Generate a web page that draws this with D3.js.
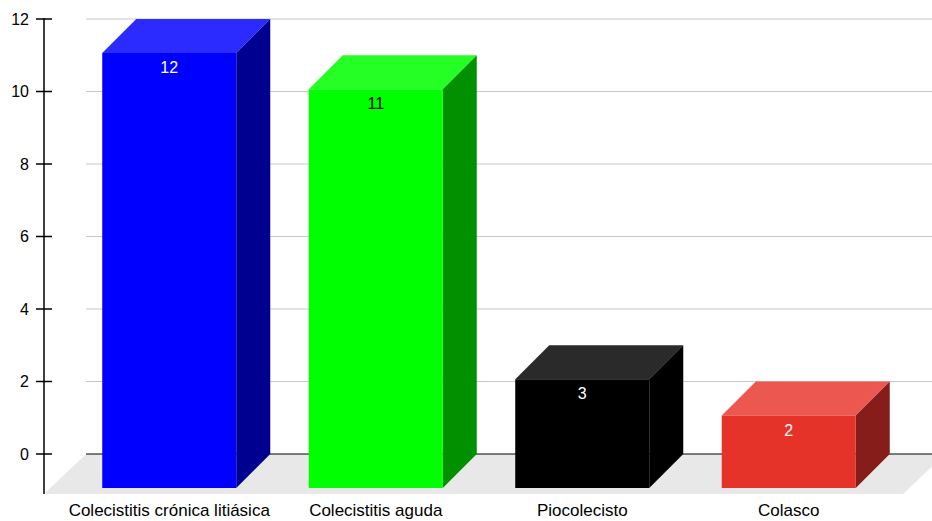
<!DOCTYPE html>
<html lang="es">
    <head>
        <meta charset="UTF-8" />
        <title>Colecistitis</title>
        <style>
            body {
                margin: 0;
                background: #fff;
            }
            svg {
                display: block;
            }
            .tick-label {
                font: 16px Arial, "Liberation Sans", sans-serif;
                fill: #000;
            }
            .cat-label {
                font: 17px Arial, "Liberation Sans", sans-serif;
                fill: #000;
            }
            .value-label {
                font: 16px Arial, "Liberation Sans", sans-serif;
            }
        </style>
    </head>
    <body>
        <svg width="932" height="521"></svg>
        <script src="https://cdnjs.cloudflare.com/ajax/libs/d3/7.9.0/d3.min.js"></script>
        <script>
            // chart data
            const categories = ["Colecistitis crónica litiásica", "Colecistitis aguda", "Piocolecisto", "Colasco"];
            const values = [12, 11, 3, 2];
            const yTicks = [0, 2, 4, 6, 8, 10, 12];

            // colours per bar: front, top, side, label
            const frontColors = ["#0000ff", "#00ff00", "#000000", "#e5332a"];
            const topColors = ["#2b2bff", "#26ff26", "#2a2a2a", "#ec5850"];
            const sideColors = ["#000090", "#009000", "#000000", "#861d1a"];
            const labelColors = ["#fff", "#000", "#fff", "#fff"];

            const svg = d3.select("svg");
            const W = 932;

            const y = d3.scaleLinear().domain([0, 12]).range([454, 19]);
            const x = d3
                .scaleBand()
                .domain(categories)
                .range([100, 926])
                .paddingInner(0.351)
                .paddingOuter(0.1755);

            const axisX = 44;
            const floorBottom = 494;
            const backLeft = 86;
            const depth = { x: 34, y: 34 }; // bar depth offset
            const floorDepth = { x: 42, y: 40 };

            // floor
            svg.append("path")
                .attr("fill", "#e8e8e8")
                .attr(
                    "d",
                    `M${backLeft},${y(0)}L${W + 13},${y(0)}L${W + 13 - floorDepth.x},${floorBottom}L${axisX},${floorBottom}Z`
                );

            // gridlines
            svg.selectAll(".grid")
                .data(yTicks)
                .enter()
                .append("line")
                .attr("x1", backLeft)
                .attr("x2", W)
                .attr("y1", (d) => y(d))
                .attr("y2", (d) => y(d))
                .attr("stroke", (d) => (d === 0 ? "#000" : "#c8c8c8"))
                .attr("stroke-width", (d) => (d === 0 ? 1 : 1.2));

            // y axis
            svg.append("line")
                .attr("x1", axisX)
                .attr("x2", axisX)
                .attr("y1", y(12) - 1)
                .attr("y2", floorBottom)
                .attr("stroke", "#000")
                .attr("stroke-width", 1.5);

            svg.selectAll(".ytick")
                .data(yTicks)
                .enter()
                .append("line")
                .attr("x1", axisX - 8)
                .attr("x2", axisX + 8)
                .attr("y1", (d) => y(d))
                .attr("y2", (d) => y(d))
                .attr("stroke", "#000")
                .attr("stroke-width", 1.5);

            svg.selectAll(".tick-label")
                .data(yTicks)
                .enter()
                .append("text")
                .attr("class", "tick-label")
                .attr("x", 29)
                .attr("y", (d) => y(d))
                .attr("dy", "0.36em")
                .attr("text-anchor", "end")
                .text((d) => d);

            // bars
            const bars = svg
                .selectAll(".bar")
                .data(categories.map((c, i) => ({ c, v: values[i], i })))
                .enter()
                .append("g")
                .attr("class", "bar");

            const bw = x.bandwidth();
            bars.append("path")
                .attr("fill", (d) => topColors[d.i])
                .attr("d", (d) => {
                    const bx = x(d.c), yt = y(d.v);
                    return `M${bx - depth.x},${yt + depth.y}L${bx},${yt}L${bx + bw},${yt}L${bx + bw - depth.x},${yt + depth.y}Z`;
                });
            bars.append("path")
                .attr("fill", (d) => sideColors[d.i])
                .attr("d", (d) => {
                    const bx = x(d.c), yt = y(d.v);
                    return `M${bx + bw - depth.x},${yt + depth.y}L${bx + bw},${yt}L${bx + bw},${y(0)}L${bx + bw - depth.x},${y(0) + depth.y}Z`;
                });
            bars.append("rect")
                .attr("fill", (d) => frontColors[d.i])
                .attr("x", (d) => x(d.c) - depth.x)
                .attr("y", (d) => y(d.v) + depth.y)
                .attr("width", bw)
                .attr("height", (d) => y(0) - y(d.v));

            bars.append("text")
                .attr("class", "value-label")
                .attr("fill", (d) => labelColors[d.i])
                .attr("text-anchor", "middle")
                .attr("x", (d) => x(d.c) - depth.x + bw / 2)
                .attr("y", (d) => y(d.v) + depth.y + 20)
                .text((d) => d.v);

            // category labels
            svg.selectAll(".cat-label")
                .data(categories)
                .enter()
                .append("text")
                .attr("class", "cat-label")
                .attr("text-anchor", "middle")
                .attr("x", (d) => x(d) - depth.x + bw / 2)
                .attr("y", 516)
                .text((d) => d);
        </script>
    </body>
</html>
